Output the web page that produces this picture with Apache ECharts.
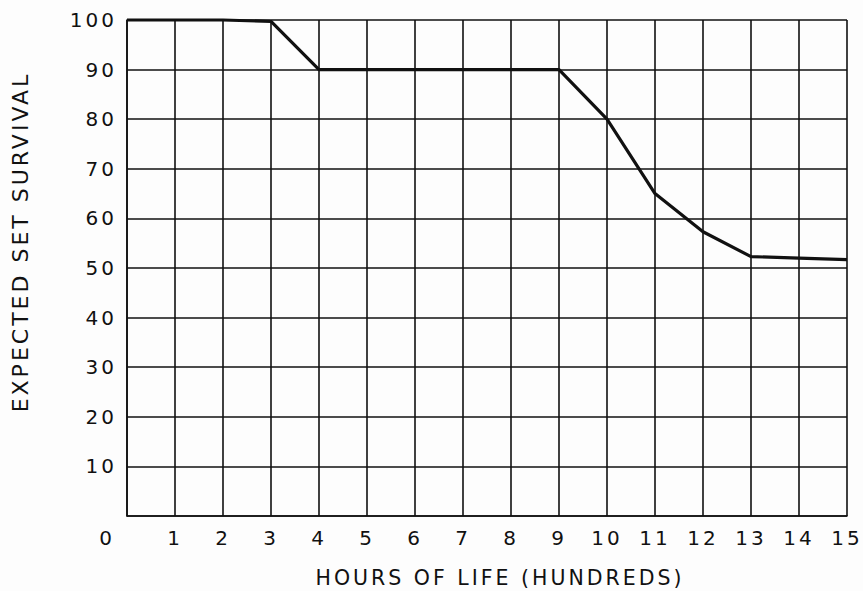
<!DOCTYPE html>
<html>
<head>
<meta charset="utf-8">
<script src="https://cdn.jsdelivr.net/npm/echarts@6/dist/echarts.min.js"></script>
<style>
  html, body { margin: 0; padding: 0; background: #fdfdfd; }
  #chart { width: 863px; height: 591px; }
  /* lettering on the drawing is widely spaced */
  #chart text { letter-spacing: 3px; }
</style>
</head>
<body>
<div id="chart"></div>
<script>
// Hours of life, in hundreds
const hours = [0, 1, 2, 3, 4, 5, 6, 7, 8, 9, 10, 11, 12, 13, 14, 15];
// Expected set survival (percent)
const survival = [100, 100, 100, 99.7, 90, 90, 90, 90, 90, 90, 80, 65, 57.3, 52.3, 52, 51.7];

const xTitle = 'HOURS OF LIFE (HUNDREDS)';
const yTitle = 'EXPECTED SET SURVIVAL';

const ink = '#111';
const font = 'DejaVu Sans';

const chart = echarts.init(document.getElementById('chart'), null, { renderer: 'svg' });

chart.setOption({
  backgroundColor: '#fdfdfd',
  animation: false,
  grid: { left: 127, right: 16, top: 20, bottom: 75, containLabel: false },
  xAxis: {
    type: 'value',
    min: 0,
    max: 15,
    interval: 1,
    axisLine: { show: true, lineStyle: { color: ink, width: 1.6 } },
    axisTick: { show: false },
    splitLine: { show: true, lineStyle: { color: ink, width: 1.6 } },
    axisLabel: {
      margin: 12,
      color: ink,
      fontFamily: font,
      fontSize: 20,
      formatter: v => (v === 0 ? '{z|0}' : String(v)),
      rich: {
        z: { color: ink, fontFamily: font, fontSize: 20, padding: [0, 40, 0, 0] }
      }
    }
  },
  yAxis: {
    type: 'value',
    min: 0,
    max: 100,
    interval: 10,
    axisLine: { show: true, lineStyle: { color: ink, width: 1.6 } },
    axisTick: { show: false },
    splitLine: { show: true, lineStyle: { color: ink, width: 1.6 } },
    axisLabel: {
      margin: 10,
      color: ink,
      fontFamily: font,
      fontSize: 20,
      formatter: v => (v === 0 ? '' : String(v))
    }
  },
  series: [{
    type: 'line',
    data: hours.map((h, i) => [h, survival[i]]),
    symbol: 'none',
    clip: false,
    lineStyle: { color: ink, width: 3.2, join: 'round' }
  }],
  graphic: [
    {
      type: 'text',
      x: 500,
      y: 578,
      style: {
        text: xTitle,
        fill: ink,
        font: '20.5px "DejaVu Sans"',
        align: 'center',
        verticalAlign: 'middle'
      }
    },
    {
      type: 'text',
      x: 20,
      y: 242,
      rotation: Math.PI / 2,
      style: {
        text: yTitle,
        fill: ink,
        font: '22px "DejaVu Sans"',
        align: 'center',
        verticalAlign: 'middle'
      }
    }
  ]
});
</script>
</body>
</html>
